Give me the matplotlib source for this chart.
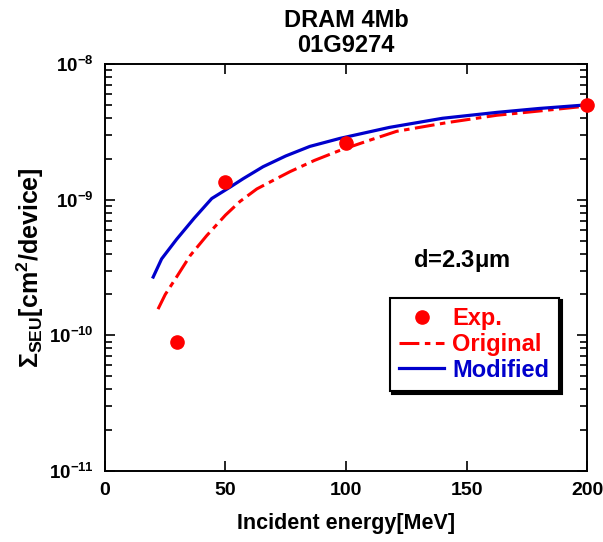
#!/usr/bin/env python3
"""SEU cross section vs incident energy for DRAM 4Mb (01G9274)."""
import matplotlib
matplotlib.use("Agg")
import matplotlib.pyplot as plt
from matplotlib.ticker import FixedLocator, LogLocator, NullFormatter, FuncFormatter
import numpy as np

# ─── Data ─────────────────────────────────────────────────────────────────────

EXP_ENERGY = [30, 50, 100, 200]                       # MeV
EXP_SIGMA = [9.0e-11, 1.36e-9, 2.62e-9, 5.0e-9]      # cm^2/device

ORIG_ENERGY = [22, 25, 29.7, 35.3, 42.2, 50, 56, 63, 71.2, 76.8, 87, 97.5,
               110, 121, 142, 162.6, 180, 200]
ORIG_SIGMA = [1.56e-10, 2.0e-10, 2.69e-10, 3.86e-10, 5.43e-10, 7.7e-10, 9.7e-10,
              1.2e-9, 1.43e-9, 1.61e-9, 1.95e-9, 2.31e-9, 2.75e-9, 3.19e-9,
              3.7e-9, 4.19e-9, 4.5e-9, 4.9e-9]

MOD_ENERGY = [20, 23.5, 29.7, 37, 44.3, 52.3, 57.4, 65.6, 75, 85, 97.5,
              118, 140, 162.6, 180, 200]
MOD_SIGMA = [2.69e-10, 3.66e-10, 5.1e-10, 7.3e-10, 1.02e-9, 1.25e-9, 1.43e-9,
             1.75e-9, 2.1e-9, 2.47e-9, 2.83e-9, 3.41e-9, 3.98e-9, 4.4e-9,
             4.7e-9, 5.0e-9]

X_TICKS = [0, 50, 100, 150, 200]

# ─── Style ────────────────────────────────────────────────────────────────────

plt.rcParams["font.family"] = ["Liberation Sans", "DejaVu Sans"]
plt.rcParams["font.weight"] = "bold"
plt.rcParams["mathtext.fontset"] = "custom"
plt.rcParams["mathtext.rm"] = "Liberation Sans:bold"
plt.rcParams["mathtext.bf"] = "Liberation Sans:bold"
plt.rcParams["mathtext.it"] = "Liberation Sans:bold"

RED = "#ff0000"
BLUE = "#0000cc"

fig = plt.figure(figsize=(6.03, 5.42), dpi=100)
ax = fig.add_axes([0.1741, 0.131, 0.7994, 0.7509])

ax.plot(ORIG_ENERGY, ORIG_SIGMA, color=RED, linewidth=2.2,
        dashes=(6.5, 1.8, 1.8, 1.8), label="Original", zorder=2)
ax.plot(MOD_ENERGY, MOD_SIGMA, color=BLUE, linewidth=2.3,
        label="Modified", zorder=3)
ax.plot(EXP_ENERGY, EXP_SIGMA, "o", color=RED, markersize=9.5,
        linestyle="none", label="Exp.", zorder=4, clip_on=False)

ax.set_yscale("log")
ax.set_xlim(0, 200)
ax.set_ylim(1e-11, 1e-8)

ax.xaxis.set_major_locator(FixedLocator(X_TICKS))
ax.yaxis.set_major_locator(LogLocator(base=10, numticks=10))
ax.yaxis.set_minor_locator(LogLocator(base=10, subs=np.arange(2, 10), numticks=10))
ax.yaxis.set_minor_formatter(NullFormatter())
ax.yaxis.set_major_formatter(
    FuncFormatter(lambda v, _: r"$\mathbf{10^{%d}}$" % int(round(np.log10(v)))))

ax.tick_params(which="both", direction="in", top=True, right=True, width=1.2)
ax.tick_params(axis="x", labelsize=14)
ax.tick_params(axis="y", labelsize=13.5)
ax.tick_params(which="major", length=7, pad=8)
ax.tick_params(which="minor", length=5)
for lab in ax.get_xticklabels():
    lab.set_fontweight("bold")
for sp in ax.spines.values():
    sp.set_linewidth(1.4)

ax.set_xlabel("Incident energy[MeV]", fontsize=15.5, fontweight="bold", labelpad=10)
ax.set_ylabel(r"$\Sigma_{\mathrm{SEU}}$[cm$^{2}$/device]", fontsize=18,
              fontweight="bold", labelpad=2)
ax.set_title("DRAM 4Mb\n01G9274", fontsize=17, fontweight="bold",
             linespacing=1.1, pad=9)

ax.text(0.64, 0.518, r"d=2.3$\mathrm{\mu}$m", transform=ax.transAxes,
        fontsize=17, fontweight="bold", ha="left", va="center")

handles, labels = ax.get_legend_handles_labels()
order = [2, 0, 1]
leg = ax.legend([handles[i] for i in order], [labels[i] for i in order],
                loc="center", bbox_to_anchor=(0.766, 0.311), fontsize=17,
                frameon=True, fancybox=False, edgecolor="black",
                shadow={"color": "black", "alpha": 1.0},
                handlelength=1.9, handletextpad=0.35, borderpad=0.4,
                borderaxespad=0, labelspacing=0.12,
                labelcolor=[RED, RED, BLUE])
leg.get_frame().set_linewidth(1.5)
for t in leg.get_texts():
    t.set_fontweight("bold")

fig.savefig("out.png", dpi=100)
